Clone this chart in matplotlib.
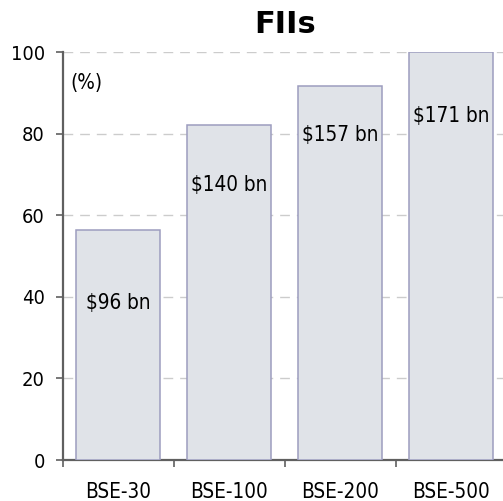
import matplotlib
matplotlib.use("Agg")
import matplotlib.pyplot as plt
from matplotlib import font_manager
import numpy as np

categories = ["BSE-30", "BSE-100", "BSE-200", "BSE-500"]
share_pct = [56.3, 82.0, 91.7, 100.0]
bar_labels = ["$96 bn", "$140 bn", "$157 bn", "$171 bn"]
label_y = [38.4, 67.4, 79.7, 84.3]
yticks = [0, 20, 40, 60, 80, 100]

# Prefer a condensed DejaVu (Tahoma-like proportions) if present
fp = font_manager.FontProperties(family="DejaVu Sans", stretch="condensed")
path = font_manager.findfont(fp)
if "Condensed" in path:
    font = dict(family="DejaVu Sans", stretch="condensed")
    fs_lab, fs_tick = 14.9, 14.4
else:
    font = dict(family="Liberation Sans")
    fs_lab, fs_tick = 14.6, 14.4

fig = plt.figure(figsize=(5.03, 5.01), dpi=100)
ax = fig.add_axes([63/503, 1-460/501, (506.6-63)/503, (460-52)/501])

x = np.arange(len(categories))
ax.bar(x, share_pct, width=0.757, color="#e0e3e8", edgecolor="#9d9dbf",
       linewidth=1.1, zorder=3)
for xi, yi, t in zip(x, label_y, bar_labels):
    ax.text(xi, yi, t, ha="center", va="center", fontsize=fs_lab,
            color="black", zorder=4, **font)

ax.set_xlim(-0.5, len(categories) - 0.5)
ax.set_ylim(0, 100)
ax.set_yticks(yticks)
ax.set_yticklabels([str(v) for v in yticks], fontsize=fs_tick, **font)
ax.yaxis.grid(True, color="#cccccc", linestyle=(0, (7, 5)), linewidth=1.0, zorder=0)
ax.set_axisbelow(True)

ax.set_xticks(np.arange(len(categories)) - 0.5)
ax.set_xticklabels([])
ax.set_xticks(x, minor=True)
ax.set_xticklabels(categories, minor=True, fontsize=fs_lab, **font)
ax.tick_params(axis="x", which="major", length=5, width=1.2, color="#606060", direction="out")
ax.tick_params(axis="x", which="minor", length=0, pad=16)
ax.tick_params(axis="y", length=5, width=1.2, color="#606060", pad=8)

for s in ["top", "right"]:
    ax.spines[s].set_visible(False)
for s in ["left", "bottom"]:
    ax.spines[s].set_color("#606060")
    ax.spines[s].set_linewidth(1.6)

ax.text(0.017, 0.925, "(%)", transform=ax.transAxes, fontsize=fs_lab,
        ha="left", va="center", **font)
ax.set_title("FIIs", fontsize=22, fontweight="bold", pad=14, family="DejaVu Sans")

fig.savefig("out.png", dpi=100)
